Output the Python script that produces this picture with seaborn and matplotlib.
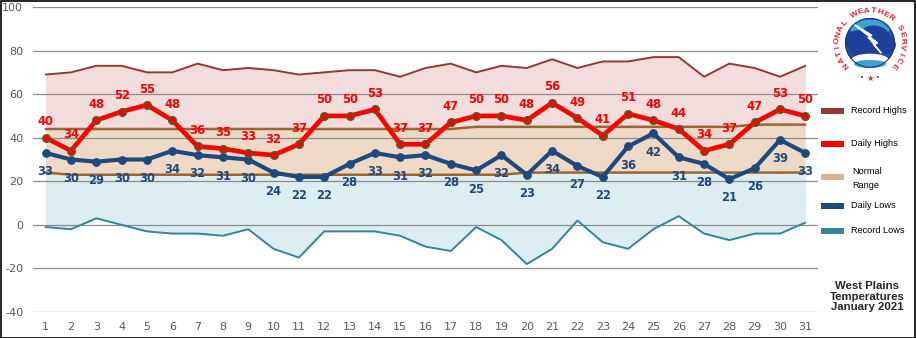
import numpy as np
import pandas as pd
import seaborn as sns
import matplotlib
matplotlib.use("Agg")
import matplotlib.pyplot as plt
from matplotlib.patches import Rectangle, Circle, Polygon, Ellipse

# ---------------- data ----------------
days = list(range(1, 32))
record_highs = [69, 70, 73, 73, 70, 70, 74, 71, 72, 71, 69, 70, 71, 71, 68, 72,
                74, 70, 73, 72, 76, 72, 75, 75, 77, 77, 68, 74, 72, 68, 73]
daily_highs = [40, 34, 48, 52, 55, 48, 36, 35, 33, 32, 37, 50, 50, 53, 37, 37,
               47, 50, 50, 48, 56, 49, 41, 51, 48, 44, 34, 37, 47, 53, 50]
normal_highs = [44, 44, 44, 44, 44, 44, 44, 44, 44, 44, 44, 44, 44, 44, 44, 44,
                44, 45, 45, 45, 45, 45, 45, 45, 45, 45, 45, 45, 46, 46, 46]
normal_lows = [24, 23, 23, 23, 23, 23, 23, 23, 23, 23, 23, 23, 23, 23, 23, 23,
               23, 23, 23, 24, 24, 24, 24, 24, 24, 24, 24, 24, 24, 24, 24]
daily_lows = [33, 30, 29, 30, 30, 34, 32, 31, 30, 24, 22, 22, 28, 33, 31, 32,
              28, 25, 32, 23, 34, 27, 22, 36, 42, 31, 28, 21, 26, 39, 33]
record_lows = [-1, -2, 3, 0, -3, -4, -4, -5, -2, -11, -15, -3, -3, -3, -5, -10,
               -12, -1, -7, -18, -11, 2, -8, -11, -2, 4, -4, -7, -4, -4, 1]
y_ticks = [-40, -20, 0, 20, 40, 60, 80, 100]
legend_labels = ["Record Highs", "Daily Highs", "Normal\nRange", "Daily Lows", "Record Lows"]
title_text = "West Plains\nTemperatures\nJanuary 2021"

df = pd.DataFrame({"day": days, "rec_hi": record_highs, "hi": daily_highs,
                   "nhi": normal_highs, "nlo": normal_lows, "lo": daily_lows,
                   "rec_lo": record_lows})

# ---------------- colours ----------------
C_RECHI = "#953735"
C_HI = "#ff0000"
C_HI_EDGE = "#4f6228"
C_NORM = "#9a6530"
C_NORM_PATCH = "#dbb48f"
C_LO = "#1f497d"
C_RECLO = "#31859c"
F_PINK = "#f2dddc"
F_TAN = "#eed9c6"
F_BLUE = "#ddeef3"

sns.set_theme(style="white")
plt.rcParams["font.family"] = ["DejaVu Sans"]

fig = plt.figure(figsize=(9.16, 3.38), dpi=100)
ax = fig.add_axes([33 / 916, 26 / 338, 785 / 916, 305 / 338])
ax.set_facecolor("white")

# fills
ax.fill_between(df["day"], df["nhi"], df["rec_hi"], color=F_PINK, lw=0, zorder=1)
ax.fill_between(df["day"], df["nlo"], df["nhi"], color=F_TAN, lw=0, zorder=1)
ax.fill_between(df["day"], df["rec_lo"], df["nlo"], color=F_BLUE, lw=0, zorder=1)

# grid lines
for t in y_ticks:
    ax.axhline(t, color="#8c8c8c", lw=0.9, zorder=2)

# lines via seaborn
sns.lineplot(data=df, x="day", y="rec_hi", ax=ax, color=C_RECHI, lw=1.4, zorder=3)
sns.lineplot(data=df, x="day", y="rec_lo", ax=ax, color=C_RECLO, lw=1.4, zorder=3)
sns.lineplot(data=df, x="day", y="nhi", ax=ax, color=C_NORM, lw=1.8, zorder=3)
sns.lineplot(data=df, x="day", y="nlo", ax=ax, color=C_NORM, lw=1.8, zorder=3)
sns.lineplot(data=df, x="day", y="lo", ax=ax, color=C_LO, lw=3.0, zorder=4,
             marker="o", markersize=5.5, markerfacecolor=C_LO, markeredgecolor=C_LO)
sns.lineplot(data=df, x="day", y="hi", ax=ax, color=C_HI, lw=3.4, zorder=5,
             marker="o", markersize=5.5, markerfacecolor=C_HI,
             markeredgecolor=C_HI_EDGE, markeredgewidth=1.0)

# data labels
for d, v in zip(days, daily_highs):
    ax.annotate(str(v), (d, v), xytext=(0, 11.5), textcoords="offset points",
                ha="center", va="center", color=C_HI, fontsize=8.3,
                fontweight="bold", zorder=6)
for d, v in zip(days, daily_lows):
    ax.annotate(str(v), (d, v), xytext=(0, -13.5), textcoords="offset points",
                ha="center", va="center", color=C_LO, fontsize=8.3,
                fontweight="bold", zorder=6)

ax.set_xlim(0.5, 31.5)
ax.set_ylim(-40, 100)
ax.set_xticks(days)
ax.set_xticklabels([str(d) for d in days])
ax.set_yticks(y_ticks)
ax.set_yticklabels([str(t) for t in y_ticks])
ax.tick_params(axis="both", length=0, labelsize=8, labelcolor="#595959")
ax.tick_params(axis="x", pad=7)
ax.tick_params(axis="y", pad=7)
ax.set_xlabel("")
ax.set_ylabel("")
for s in ax.spines.values():
    s.set_visible(False)

# ---------------- legend (manual) ----------------
W, H = 916.0, 338.0
def fx(x):
    return x / W
def fy(y):
    return 1 - y / H

LEG_FONT = ["Liberation Sans", "DejaVu Sans"]
leg_y = [110.5, 143.5, 176.5, 206, 230.5]
leg_c = [C_RECHI, C_HI, C_NORM_PATCH, C_LO, C_RECLO]
for lab, y, c in zip(legend_labels, leg_y, leg_c):
    fig.add_artist(Rectangle((fx(821), fy(y + 3)), fx(23), 6 / H,
                             transform=fig.transFigure, color=c, lw=0))
    if "\n" in lab:
        fig.text(fx(852), fy(y - 5), lab.split("\n")[0], fontsize=6.6, va="center",
                 ha="left", color="#000000", family=LEG_FONT)
        fig.text(fx(852), fy(y + 9.5), lab.split("\n")[1], fontsize=6.6, va="center",
                 ha="left", color="#000000", family=LEG_FONT)
    else:
        fig.text(fx(851), fy(y), lab, fontsize=6.6, va="center", ha="left",
                 color="#000000", family=LEG_FONT)

fig.text(fx(867), fy(296.5), title_text, fontsize=8.2, fontweight="bold",
         ha="center", va="center", linespacing=1.1, family=LEG_FONT)

# ---------------- NWS logo ----------------
lax = fig.add_axes([fx(830), fy(83), 80 / W, 82 / H])
lax.set_xlim(-1.05, 1.05)
lax.set_ylim(-1.05, 1.1)
lax.set_aspect("equal")
lax.axis("off")
lax.add_patch(Circle((0, 0), 0.64, color="#2750a6", zorder=1))
lax.add_patch(Circle((0, 0), 0.64, fill=False, ec="#1d3580", lw=0.8, zorder=5))
# upper sky band
lax.add_patch(Ellipse((0, 0.38), 1.0, 0.43, color="#3aa3cf", zorder=2))
# cloud
for (cx, cy, w, h) in [(-0.3, 0.05, 0.68, 0.53), (0.1, 0.15, 0.78, 0.58),
                       (0.38, -0.05, 0.56, 0.48), (-0.1, -0.15, 0.86, 0.48)]:
    lax.add_patch(Ellipse((cx, cy), w, h, color="#1f3f9c", zorder=3))
# waves
lax.add_patch(Ellipse((0, -0.46), 0.96, 0.32, color="white", zorder=3))
lax.add_patch(Ellipse((0, -0.55), 0.8, 0.17, color="#3aa3cf", zorder=3))
# lightning bolt
bolt = [(-0.48, 0.53), (0.05, 0.2), (-0.05, 0.15), (0.3, -0.27),
        (0.1, -0.05), (0.2, 0.0), (-0.48, 0.53)]
lax.add_patch(Polygon(bolt, closed=True, color="white", zorder=4))
# ring text
ring = "NATIONAL WEATHER SERVICE"
n = len(ring)
a0, a1 = 222.0, -42.0
for i, ch in enumerate(ring):
    a = np.deg2rad(a0 + (a1 - a0) * i / (n - 1))
    r = 0.85
    lax.text(r * np.cos(a), r * np.sin(a), ch, rotation=np.rad2deg(a) - 90,
             ha="center", va="center", fontsize=6.0, fontweight="bold",
             color="#e8202a", family=LEG_FONT)
lax.text(-0.22, -0.93, "•", color="#2750a6", fontsize=5, ha="center", va="center")
lax.text(0.0, -0.93, "★", color="#e8202a", fontsize=6, ha="center", va="center")
lax.text(0.22, -0.93, "•", color="#2750a6", fontsize=5, ha="center", va="center")

# outer black border
fig.add_artist(Rectangle((0.5 / W, 0.5 / H), 1 - 1.5 / W, 1 - 1.5 / H,
                         transform=fig.transFigure, fill=False, ec="black", lw=1.2))

fig.savefig("out.png", dpi=100)
